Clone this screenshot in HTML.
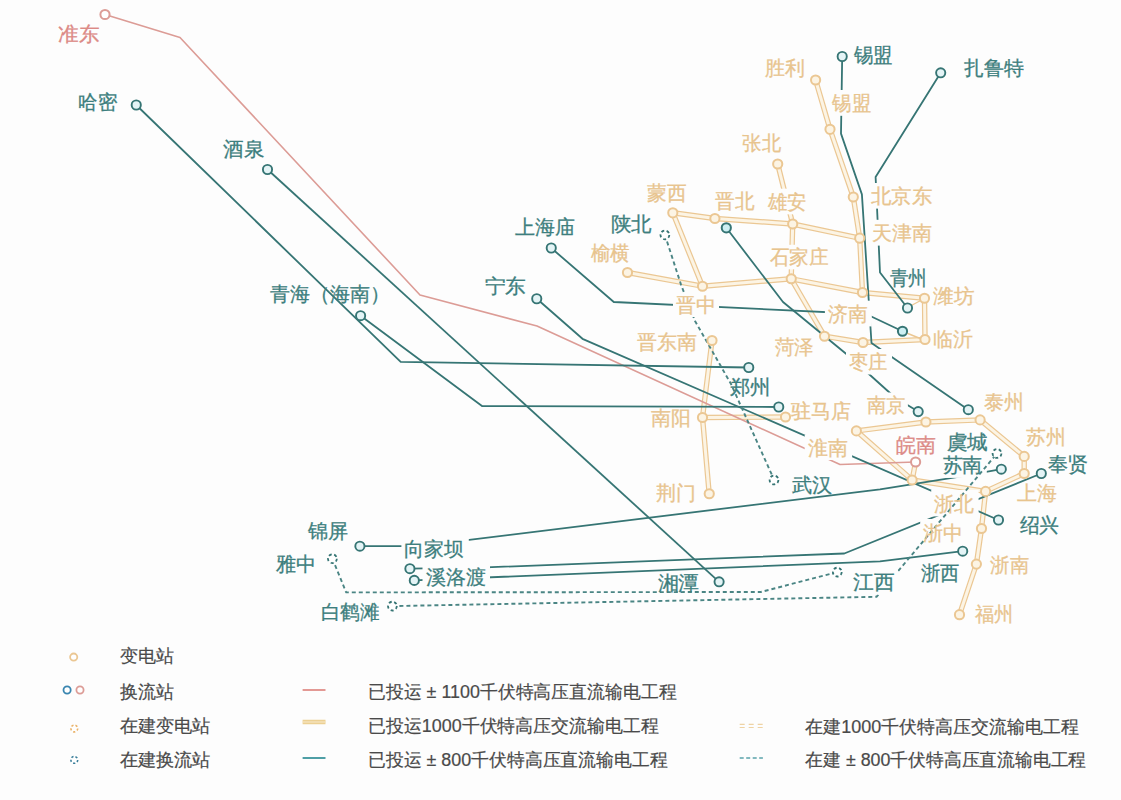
<!DOCTYPE html><html><head><meta charset="utf-8"><style>
html,body{margin:0;padding:0;background:#fdfdfd;width:1121px;height:800px;overflow:hidden}
svg{position:absolute;left:0;top:0;display:block}
text{font-family:"Liberation Sans",sans-serif;}
</style></head><body>
<svg width="1121" height="800" viewBox="0 0 1121 800">
<rect width="1121" height="800" fill="#fdfdfd"/>
<g fill="none" stroke="#ebc793" stroke-width="5.4" stroke-linejoin="round" stroke-linecap="round">
<polyline points="815.6,80.0 830.0,129.3 853.3,197.0 859.7,238.2 862.5,292.5 924.5,298.2 925.0,339.5 863.0,342.5 824.5,336.2 791.2,278.8 792.7,224.0 859.7,238.2"/>
<polyline points="777.7,164.0 792.7,224.0"/>
<polyline points="672.8,212.8 714.9,218.5 792.7,224.0"/>
<polyline points="672.8,212.8 702.5,286.2"/>
<polyline points="627.5,272.5 702.5,286.2 791.2,278.8 862.5,292.5"/>
<polyline points="712.0,340.5 702.5,417.5 709.2,493.8"/>
<polyline points="702.5,417.5 785.5,417.0"/>
<polyline points="856.4,430.9 925.9,422.0 980.1,419.9 1024.2,456.4 1024.2,473.5 985.6,491.4 912.1,480.0 856.4,430.9"/>
<polyline points="912.1,480.0 915.6,462.0"/>
<polyline points="985.6,491.4 981.5,528.5 976.4,564.1 959.5,614.7"/>
</g>
<g fill="none" stroke="#fcf4e4" stroke-width="3" stroke-linejoin="round" stroke-linecap="round">
<polyline points="815.6,80.0 830.0,129.3 853.3,197.0 859.7,238.2 862.5,292.5 924.5,298.2 925.0,339.5 863.0,342.5 824.5,336.2 791.2,278.8 792.7,224.0 859.7,238.2"/>
<polyline points="777.7,164.0 792.7,224.0"/>
<polyline points="672.8,212.8 714.9,218.5 792.7,224.0"/>
<polyline points="672.8,212.8 702.5,286.2"/>
<polyline points="627.5,272.5 702.5,286.2 791.2,278.8 862.5,292.5"/>
<polyline points="712.0,340.5 702.5,417.5 709.2,493.8"/>
<polyline points="702.5,417.5 785.5,417.0"/>
<polyline points="856.4,430.9 925.9,422.0 980.1,419.9 1024.2,456.4 1024.2,473.5 985.6,491.4 912.1,480.0 856.4,430.9"/>
<polyline points="912.1,480.0 915.6,462.0"/>
<polyline points="985.6,491.4 981.5,528.5 976.4,564.1 959.5,614.7"/>
</g>
<polyline points="105.0,14.5 180.0,37.5 420.0,295.0 537.0,326.0 840.0,464.5 915.6,462.0" fill="none" stroke="#dc9c96" stroke-width="1.6" stroke-linejoin="round"/>
<g fill="none" stroke="#ebc793" stroke-width="1.4">
<line x1="907.5" y1="307.5" x2="924.5" y2="298.5"/><line x1="902.8" y1="331.5" x2="924" y2="340"/>
</g>
<g fill="none" stroke="#367574" stroke-width="1.8" stroke-linejoin="round">
<polyline points="136.2,105.0 400.7,361.8 748.8,367.5"/>
<polyline points="267.5,169.5 719.1,581.8"/>
<polyline points="360.6,315.7 482.0,406.0 778.8,407.0"/>
<polyline points="536.8,298.8 582.5,338.8 998.5,520.0"/>
<polyline points="551.2,248.0 613.8,302.0 866.0,314.0 902.5,331.2"/>
<polyline points="726.3,227.8 783.0,302.0 850.0,357.0 895.0,397.5 918.2,411.6"/>
<polyline points="842.2,56.5 841.0,133.6 861.9,194.4 871.5,343.0 968.3,409.7"/>
<polyline points="940.7,72.8 875.6,177.0 880.0,272.5 907.5,308.0"/>
<polyline points="359.9,546.2 418.0,546.2 880.0,489.3 961.4,476.4 1001.3,469.2"/>
<polyline points="409.9,568.7 486.0,567.4 844.3,553.5 1041.3,473.5"/>
<polyline points="414.3,580.4 880.0,561.3 962.7,551.2"/>
</g>
<g fill="#fdfdfd">
<rect x="939.5" y="454.4" width="47.3" height="23.5"/>
<rect x="401.4" y="534.7" width="67.4" height="27.0"/>
<rect x="422.5" y="563.4" width="67.5" height="25.8"/>
<rect x="829.3" y="90.0" width="46.0" height="25.8"/>
<rect x="765.0" y="188.7" width="46.0" height="25.6"/>
<rect x="867.8" y="183.0" width="68.9" height="25.6"/>
<rect x="869.0" y="219.8" width="67.5" height="25.8"/>
<rect x="766.5" y="244.8" width="66.2" height="24.5"/>
<rect x="824.9" y="300.7" width="46.9" height="25.7"/>
<rect x="846.0" y="349.0" width="46.0" height="25.5"/>
<rect x="804.7" y="435.0" width="47.4" height="25.0"/>
<rect x="865.9" y="392.5" width="42.0" height="24.9"/>
<rect x="931.2" y="490.0" width="47.4" height="26.4"/>
<rect x="920.2" y="519.0" width="47.4" height="26.2"/>
</g>
<g fill="none" stroke="#4a8584" stroke-width="1.9" stroke-dasharray="4 3" stroke-linejoin="round">
<polyline points="664.9,234.9 681.0,284.6 695.0,321.0 731.0,384.0 774.2,480.0"/>
<polyline points="332.4,558.7 346.2,592.4 760.8,592.0 837.3,572.1"/>
<polyline points="392.4,606.1 876.5,596.8 997.0,453.5"/>
</g>
<g fill="#fdfdfd">
<rect x="850.6" y="569.5" width="47.3" height="25.2"/>
<rect x="673.0" y="293.0" width="46.0" height="24.0"/>
</g>
<g fill="#fcf4e4" stroke="#ebc793" stroke-width="2">
<circle cx="815.6" cy="80" r="4.6"/>
<circle cx="830" cy="129.3" r="4.6"/>
<circle cx="853.3" cy="197" r="4.6"/>
<circle cx="859.7" cy="238.2" r="4.6"/>
<circle cx="862.5" cy="292.5" r="4.6"/>
<circle cx="924.5" cy="298.25" r="4.6"/>
<circle cx="925" cy="339.5" r="4.6"/>
<circle cx="863" cy="342.5" r="4.6"/>
<circle cx="824.5" cy="336.25" r="4.6"/>
<circle cx="791.25" cy="278.75" r="4.6"/>
<circle cx="792.7" cy="224" r="4.6"/>
<circle cx="777.7" cy="164" r="4.6"/>
<circle cx="672.8" cy="212.8" r="4.6"/>
<circle cx="714.9" cy="218.5" r="4.6"/>
<circle cx="702.5" cy="286.25" r="4.6"/>
<circle cx="627.5" cy="272.5" r="4.6"/>
<circle cx="712" cy="340.5" r="4.6"/>
<circle cx="702.5" cy="417.5" r="4.6"/>
<circle cx="709.25" cy="493.75" r="4.6"/>
<circle cx="785.5" cy="417" r="4.6"/>
<circle cx="856.4" cy="430.9" r="4.6"/>
<circle cx="925.9" cy="422" r="4.6"/>
<circle cx="980.1" cy="419.9" r="4.6"/>
<circle cx="1024.2" cy="456.4" r="4.6"/>
<circle cx="1024.2" cy="473.5" r="4.6"/>
<circle cx="985.6" cy="491.4" r="4.6"/>
<circle cx="912.1" cy="480" r="4.6"/>
<circle cx="981.5" cy="528.5" r="4.6"/>
<circle cx="976.4" cy="564.1" r="4.6"/>
<circle cx="959.5" cy="614.7" r="4.6"/>
</g>
<g fill="#e4f4f6" stroke="#367574" stroke-width="1.9">
<circle cx="842.2" cy="56.5" r="4.6"/>
<circle cx="940.7" cy="72.8" r="4.6"/>
<circle cx="136.25" cy="105" r="4.6"/>
<circle cx="267.5" cy="169.5" r="4.6"/>
<circle cx="360.6" cy="315.7" r="4.6"/>
<circle cx="551.25" cy="248" r="4.6"/>
<circle cx="536.75" cy="298.75" r="4.6"/>
<circle cx="907.5" cy="308" r="4.6"/>
<circle cx="748.75" cy="367.5" r="4.6"/>
<circle cx="778.75" cy="407" r="4.6"/>
<circle cx="918.2" cy="411.6" r="4.6"/>
<circle cx="968.3" cy="409.7" r="4.6"/>
<circle cx="1001.3" cy="469.2" r="4.6"/>
<circle cx="1041.3" cy="473.5" r="4.6"/>
<circle cx="998.5" cy="520" r="4.6"/>
<circle cx="962.7" cy="551.2" r="4.6"/>
<circle cx="719.1" cy="581.8" r="4.6"/>
<circle cx="359.9" cy="546.2" r="4.6"/>
<circle cx="409.9" cy="568.7" r="4.6"/>
<circle cx="414.3" cy="580.4" r="4.6"/>
</g>
<g fill="#cdeff3" stroke="#367574" stroke-width="2">
<circle cx="726.3" cy="227.8" r="4.6"/>
<circle cx="902.5" cy="331.25" r="4.6"/>
</g>
<g fill="#fff" stroke="#dc9c96" stroke-width="2">
<circle cx="105" cy="14.5" r="4.6"/>
<circle cx="915.6" cy="462" r="4.6"/>
</g>
<g fill="#fff" stroke="#367574" stroke-width="1.8" stroke-dasharray="3 2.5">
<circle cx="664.9" cy="234.9" r="4.4"/>
<circle cx="774" cy="480" r="4.4"/>
<circle cx="332.4" cy="558.7" r="4.4"/>
<circle cx="392.4" cy="606.1" r="4.4"/>
<circle cx="997" cy="453.5" r="4.4"/>
<circle cx="837.3" cy="572.1" r="4.4"/>
</g>
<text x="853.5" y="61.8" font-size="20" fill="#3d7f7e" stroke="#3d7f7e" stroke-width="0.3" textLength="38.7" lengthAdjust="spacingAndGlyphs">锡盟</text>
<text x="963.5" y="74.5" font-size="20" fill="#3d7f7e" stroke="#3d7f7e" stroke-width="0.3" textLength="60.0" lengthAdjust="spacingAndGlyphs">扎鲁特</text>
<text x="78.2" y="108.8" font-size="20" fill="#3d7f7e" stroke="#3d7f7e" stroke-width="0.3" textLength="38.8" lengthAdjust="spacingAndGlyphs">哈密</text>
<text x="223.2" y="156.2" font-size="20" fill="#3d7f7e" stroke="#3d7f7e" stroke-width="0.3" textLength="41.2" lengthAdjust="spacingAndGlyphs">酒泉</text>
<text x="270.2" y="301.0" font-size="20" fill="#3d7f7e" stroke="#3d7f7e" stroke-width="0.3" textLength="120.0" lengthAdjust="spacingAndGlyphs">青海（海南）</text>
<text x="514.5" y="233.5" font-size="20" fill="#3d7f7e" stroke="#3d7f7e" stroke-width="0.3" textLength="60.0" lengthAdjust="spacingAndGlyphs">上海庙</text>
<text x="484.5" y="292.9" font-size="20" fill="#3d7f7e" stroke="#3d7f7e" stroke-width="0.3" textLength="41.5" lengthAdjust="spacingAndGlyphs">宁东</text>
<text x="610.5" y="231.2" font-size="20" fill="#3d7f7e" stroke="#3d7f7e" stroke-width="0.3" textLength="41.0" lengthAdjust="spacingAndGlyphs">陕北</text>
<text x="889.5" y="285.0" font-size="20" fill="#3d7f7e" stroke="#3d7f7e" stroke-width="0.3" textLength="37.5" lengthAdjust="spacingAndGlyphs">青州</text>
<text x="729.5" y="393.5" font-size="20" fill="#3d7f7e" stroke="#3d7f7e" stroke-width="0.3" textLength="41.0" lengthAdjust="spacingAndGlyphs">郑州</text>
<text x="791.6" y="491.9" font-size="20" fill="#3d7f7e" stroke="#3d7f7e" stroke-width="0.3" textLength="40.2" lengthAdjust="spacingAndGlyphs">武汉</text>
<text x="946.5" y="449.0" font-size="20" fill="#3d7f7e" stroke="#3d7f7e" stroke-width="0.3" textLength="41.3" lengthAdjust="spacingAndGlyphs">虞城</text>
<text x="942.5" y="472.4" font-size="20" fill="#3d7f7e" stroke="#3d7f7e" stroke-width="0.3" textLength="39.8" lengthAdjust="spacingAndGlyphs">苏南</text>
<text x="1048.3" y="471.0" font-size="20" fill="#3d7f7e" stroke="#3d7f7e" stroke-width="0.3" textLength="39.9" lengthAdjust="spacingAndGlyphs">奉贤</text>
<text x="1019.5" y="531.5" font-size="20" fill="#3d7f7e" stroke="#3d7f7e" stroke-width="0.3" textLength="39.8" lengthAdjust="spacingAndGlyphs">绍兴</text>
<text x="920.5" y="579.5" font-size="20" fill="#3d7f7e" stroke="#3d7f7e" stroke-width="0.3" textLength="38.5" lengthAdjust="spacingAndGlyphs">浙西</text>
<text x="853.1" y="589.2" font-size="20" fill="#3d7f7e" stroke="#3d7f7e" stroke-width="0.3" textLength="41.3" lengthAdjust="spacingAndGlyphs">江西</text>
<text x="657.5" y="589.5" font-size="20" fill="#3d7f7e" stroke="#3d7f7e" stroke-width="0.3" textLength="41.8" lengthAdjust="spacingAndGlyphs">湘潭</text>
<text x="308.2" y="537.5" font-size="20" fill="#3d7f7e" stroke="#3d7f7e" stroke-width="0.3" textLength="40.0" lengthAdjust="spacingAndGlyphs">锦屏</text>
<text x="404.4" y="556.2" font-size="20" fill="#3d7f7e" stroke="#3d7f7e" stroke-width="0.3" textLength="59.9" lengthAdjust="spacingAndGlyphs">向家坝</text>
<text x="275.7" y="571.2" font-size="20" fill="#3d7f7e" stroke="#3d7f7e" stroke-width="0.3" textLength="40.0" lengthAdjust="spacingAndGlyphs">雅中</text>
<text x="425.5" y="583.7" font-size="20" fill="#3d7f7e" stroke="#3d7f7e" stroke-width="0.3" textLength="60.0" lengthAdjust="spacingAndGlyphs">溪洛渡</text>
<text x="320.7" y="618.6" font-size="20" fill="#3d7f7e" stroke="#3d7f7e" stroke-width="0.3" textLength="58.7" lengthAdjust="spacingAndGlyphs">白鹤滩</text>
<text x="58.2" y="41.2" font-size="20" fill="#dc8a86" stroke="#dc8a86" stroke-width="0.3" textLength="41.2" lengthAdjust="spacingAndGlyphs">准东</text>
<text x="895.7" y="451.7" font-size="20" fill="#dc8a86" stroke="#dc8a86" stroke-width="0.3" textLength="39.9" lengthAdjust="spacingAndGlyphs">皖南</text>
<text x="765.2" y="74.5" font-size="20" fill="#e8c48e" stroke="#e8c48e" stroke-width="0.3" textLength="39.9" lengthAdjust="spacingAndGlyphs">胜利</text>
<text x="832.3" y="110.3" font-size="20" fill="#e8c48e" stroke="#e8c48e" stroke-width="0.3" textLength="38.5" lengthAdjust="spacingAndGlyphs">锡盟</text>
<text x="742.3" y="150.3" font-size="20" fill="#e8c48e" stroke="#e8c48e" stroke-width="0.3" textLength="38.6" lengthAdjust="spacingAndGlyphs">张北</text>
<text x="647.3" y="200.3" font-size="20" fill="#e8c48e" stroke="#e8c48e" stroke-width="0.3" textLength="39.3" lengthAdjust="spacingAndGlyphs">蒙西</text>
<text x="715.1" y="208.2" font-size="20" fill="#e8c48e" stroke="#e8c48e" stroke-width="0.3" textLength="39.3" lengthAdjust="spacingAndGlyphs">晋北</text>
<text x="768.0" y="208.8" font-size="20" fill="#e8c48e" stroke="#e8c48e" stroke-width="0.3" textLength="38.5" lengthAdjust="spacingAndGlyphs">雄安</text>
<text x="870.8" y="203.1" font-size="20" fill="#e8c48e" stroke="#e8c48e" stroke-width="0.3" textLength="61.4" lengthAdjust="spacingAndGlyphs">北京东</text>
<text x="872.0" y="240.0" font-size="20" fill="#e8c48e" stroke="#e8c48e" stroke-width="0.3" textLength="60.0" lengthAdjust="spacingAndGlyphs">天津南</text>
<text x="590.5" y="260.0" font-size="20" fill="#e8c48e" stroke="#e8c48e" stroke-width="0.3" textLength="39.0" lengthAdjust="spacingAndGlyphs">榆横</text>
<text x="769.5" y="263.8" font-size="20" fill="#e8c48e" stroke="#e8c48e" stroke-width="0.3" textLength="58.8" lengthAdjust="spacingAndGlyphs">石家庄</text>
<text x="675.5" y="311.5" font-size="20" fill="#e8c48e" stroke="#e8c48e" stroke-width="0.3" textLength="40.0" lengthAdjust="spacingAndGlyphs">晋中</text>
<text x="933.2" y="302.5" font-size="20" fill="#e8c48e" stroke="#e8c48e" stroke-width="0.3" textLength="41.2" lengthAdjust="spacingAndGlyphs">潍坊</text>
<text x="827.9" y="320.9" font-size="20" fill="#e8c48e" stroke="#e8c48e" stroke-width="0.3" textLength="39.4" lengthAdjust="spacingAndGlyphs">济南</text>
<text x="933.2" y="346.2" font-size="20" fill="#e8c48e" stroke="#e8c48e" stroke-width="0.3" textLength="40.0" lengthAdjust="spacingAndGlyphs">临沂</text>
<text x="774.5" y="353.8" font-size="20" fill="#e8c48e" stroke="#e8c48e" stroke-width="0.3" textLength="38.8" lengthAdjust="spacingAndGlyphs">菏泽</text>
<text x="849.0" y="369.0" font-size="20" fill="#e8c48e" stroke="#e8c48e" stroke-width="0.3" textLength="38.5" lengthAdjust="spacingAndGlyphs">枣庄</text>
<text x="637.0" y="348.5" font-size="20" fill="#e8c48e" stroke="#e8c48e" stroke-width="0.3" textLength="60.0" lengthAdjust="spacingAndGlyphs">晋东南</text>
<text x="790.5" y="417.5" font-size="20" fill="#e8c48e" stroke="#e8c48e" stroke-width="0.3" textLength="60.0" lengthAdjust="spacingAndGlyphs">驻马店</text>
<text x="650.5" y="425.0" font-size="20" fill="#e8c48e" stroke="#e8c48e" stroke-width="0.3" textLength="40.0" lengthAdjust="spacingAndGlyphs">南阳</text>
<text x="655.5" y="500.0" font-size="20" fill="#e8c48e" stroke="#e8c48e" stroke-width="0.3" textLength="40.0" lengthAdjust="spacingAndGlyphs">荆门</text>
<text x="807.7" y="454.5" font-size="20" fill="#e8c48e" stroke="#e8c48e" stroke-width="0.3" textLength="39.9" lengthAdjust="spacingAndGlyphs">淮南</text>
<text x="866.9" y="411.9" font-size="20" fill="#e8c48e" stroke="#e8c48e" stroke-width="0.3" textLength="38.5" lengthAdjust="spacingAndGlyphs">南京</text>
<text x="983.7" y="409.1" font-size="20" fill="#e8c48e" stroke="#e8c48e" stroke-width="0.3" textLength="39.9" lengthAdjust="spacingAndGlyphs">泰州</text>
<text x="1026.3" y="443.5" font-size="20" fill="#e8c48e" stroke="#e8c48e" stroke-width="0.3" textLength="39.9" lengthAdjust="spacingAndGlyphs">苏州</text>
<text x="1016.7" y="499.9" font-size="20" fill="#e8c48e" stroke="#e8c48e" stroke-width="0.3" textLength="39.8" lengthAdjust="spacingAndGlyphs">上海</text>
<text x="934.2" y="510.9" font-size="20" fill="#e8c48e" stroke="#e8c48e" stroke-width="0.3" textLength="39.9" lengthAdjust="spacingAndGlyphs">浙北</text>
<text x="923.2" y="539.7" font-size="20" fill="#e8c48e" stroke="#e8c48e" stroke-width="0.3" textLength="39.9" lengthAdjust="spacingAndGlyphs">浙中</text>
<text x="990.3" y="572.0" font-size="20" fill="#e8c48e" stroke="#e8c48e" stroke-width="0.3" textLength="38.5" lengthAdjust="spacingAndGlyphs">浙南</text>
<text x="975.0" y="621.0" font-size="20" fill="#e8c48e" stroke="#e8c48e" stroke-width="0.3" textLength="38.5" lengthAdjust="spacingAndGlyphs">福州</text>
<circle cx="73.7" cy="657.1" r="3.6" fill="#fff" stroke="#ebc793" stroke-width="1.8"/>
<circle cx="67.1" cy="690" r="3.6" fill="#fff" stroke="#3a86b0" stroke-width="1.8"/>
<circle cx="80" cy="690" r="3.6" fill="#fff" stroke="#dc9c96" stroke-width="1.8"/>
<circle cx="74.3" cy="728.5" r="3.4" fill="#fff" stroke="#eab36a" stroke-width="1.6" stroke-dasharray="2.2 2"/>
<circle cx="74.3" cy="759.9" r="3.4" fill="#fff" stroke="#3a7f9a" stroke-width="1.6" stroke-dasharray="2.2 2"/>
<line x1="302.6" y1="690" x2="325.5" y2="690" stroke="#e08e88" stroke-width="1.8"/>
<line x1="302.6" y1="722" x2="325.5" y2="722" stroke="#ecd093" stroke-width="4.5"/>
<line x1="302.6" y1="722" x2="325.5" y2="722" stroke="#f6e6c4" stroke-width="1.2"/>
<line x1="302.6" y1="758" x2="325.5" y2="758" stroke="#4f9fa6" stroke-width="2"/>
<line x1="739.7" y1="724.3" x2="762.9" y2="724.3" stroke="#efd3a4" stroke-width="1.2" stroke-dasharray="5 4"/>
<line x1="739.7" y1="727.5" x2="762.9" y2="727.5" stroke="#efd3a4" stroke-width="1.2" stroke-dasharray="5 4"/>
<line x1="739.7" y1="758" x2="762.9" y2="758" stroke="#5aa3aa" stroke-width="1.5" stroke-dasharray="4 2.5"/>
<text x="119.5" y="661.5" font-size="18" fill="#4a4a4a" stroke="#4a4a4a" stroke-width="0.2" textLength="54.0" lengthAdjust="spacingAndGlyphs">变电站</text>
<text x="119.5" y="697.5" font-size="18" fill="#4a4a4a" stroke="#4a4a4a" stroke-width="0.2" textLength="54.0" lengthAdjust="spacingAndGlyphs">换流站</text>
<text x="119.5" y="731.7" font-size="18" fill="#4a4a4a" stroke="#4a4a4a" stroke-width="0.2" textLength="91.0" lengthAdjust="spacingAndGlyphs">在建变电站</text>
<text x="119.5" y="766.0" font-size="18" fill="#4a4a4a" stroke="#4a4a4a" stroke-width="0.2" textLength="91.0" lengthAdjust="spacingAndGlyphs">在建换流站</text>
<text x="368.0" y="697.8" font-size="18" fill="#4a4a4a" stroke="#4a4a4a" stroke-width="0.2" textLength="308.5" lengthAdjust="spacingAndGlyphs">已投运 ± 1100千伏特高压直流输电工程</text>
<text x="368.0" y="731.7" font-size="18" fill="#4a4a4a" stroke="#4a4a4a" stroke-width="0.2" textLength="290.8" lengthAdjust="spacingAndGlyphs">已投运1000千伏特高压交流输电工程</text>
<text x="368.0" y="765.6" font-size="18" fill="#4a4a4a" stroke="#4a4a4a" stroke-width="0.2" textLength="299.7" lengthAdjust="spacingAndGlyphs">已投运 ± 800千伏特高压直流输电工程</text>
<text x="805.4" y="733.3" font-size="18" fill="#4a4a4a" stroke="#4a4a4a" stroke-width="0.2" textLength="273.6" lengthAdjust="spacingAndGlyphs">在建1000千伏特高压交流输电工程</text>
<text x="805.4" y="765.5" font-size="18" fill="#4a4a4a" stroke="#4a4a4a" stroke-width="0.2" textLength="280.8" lengthAdjust="spacingAndGlyphs">在建 ± 800千伏特高压直流输电工程</text>
</svg></body></html>
